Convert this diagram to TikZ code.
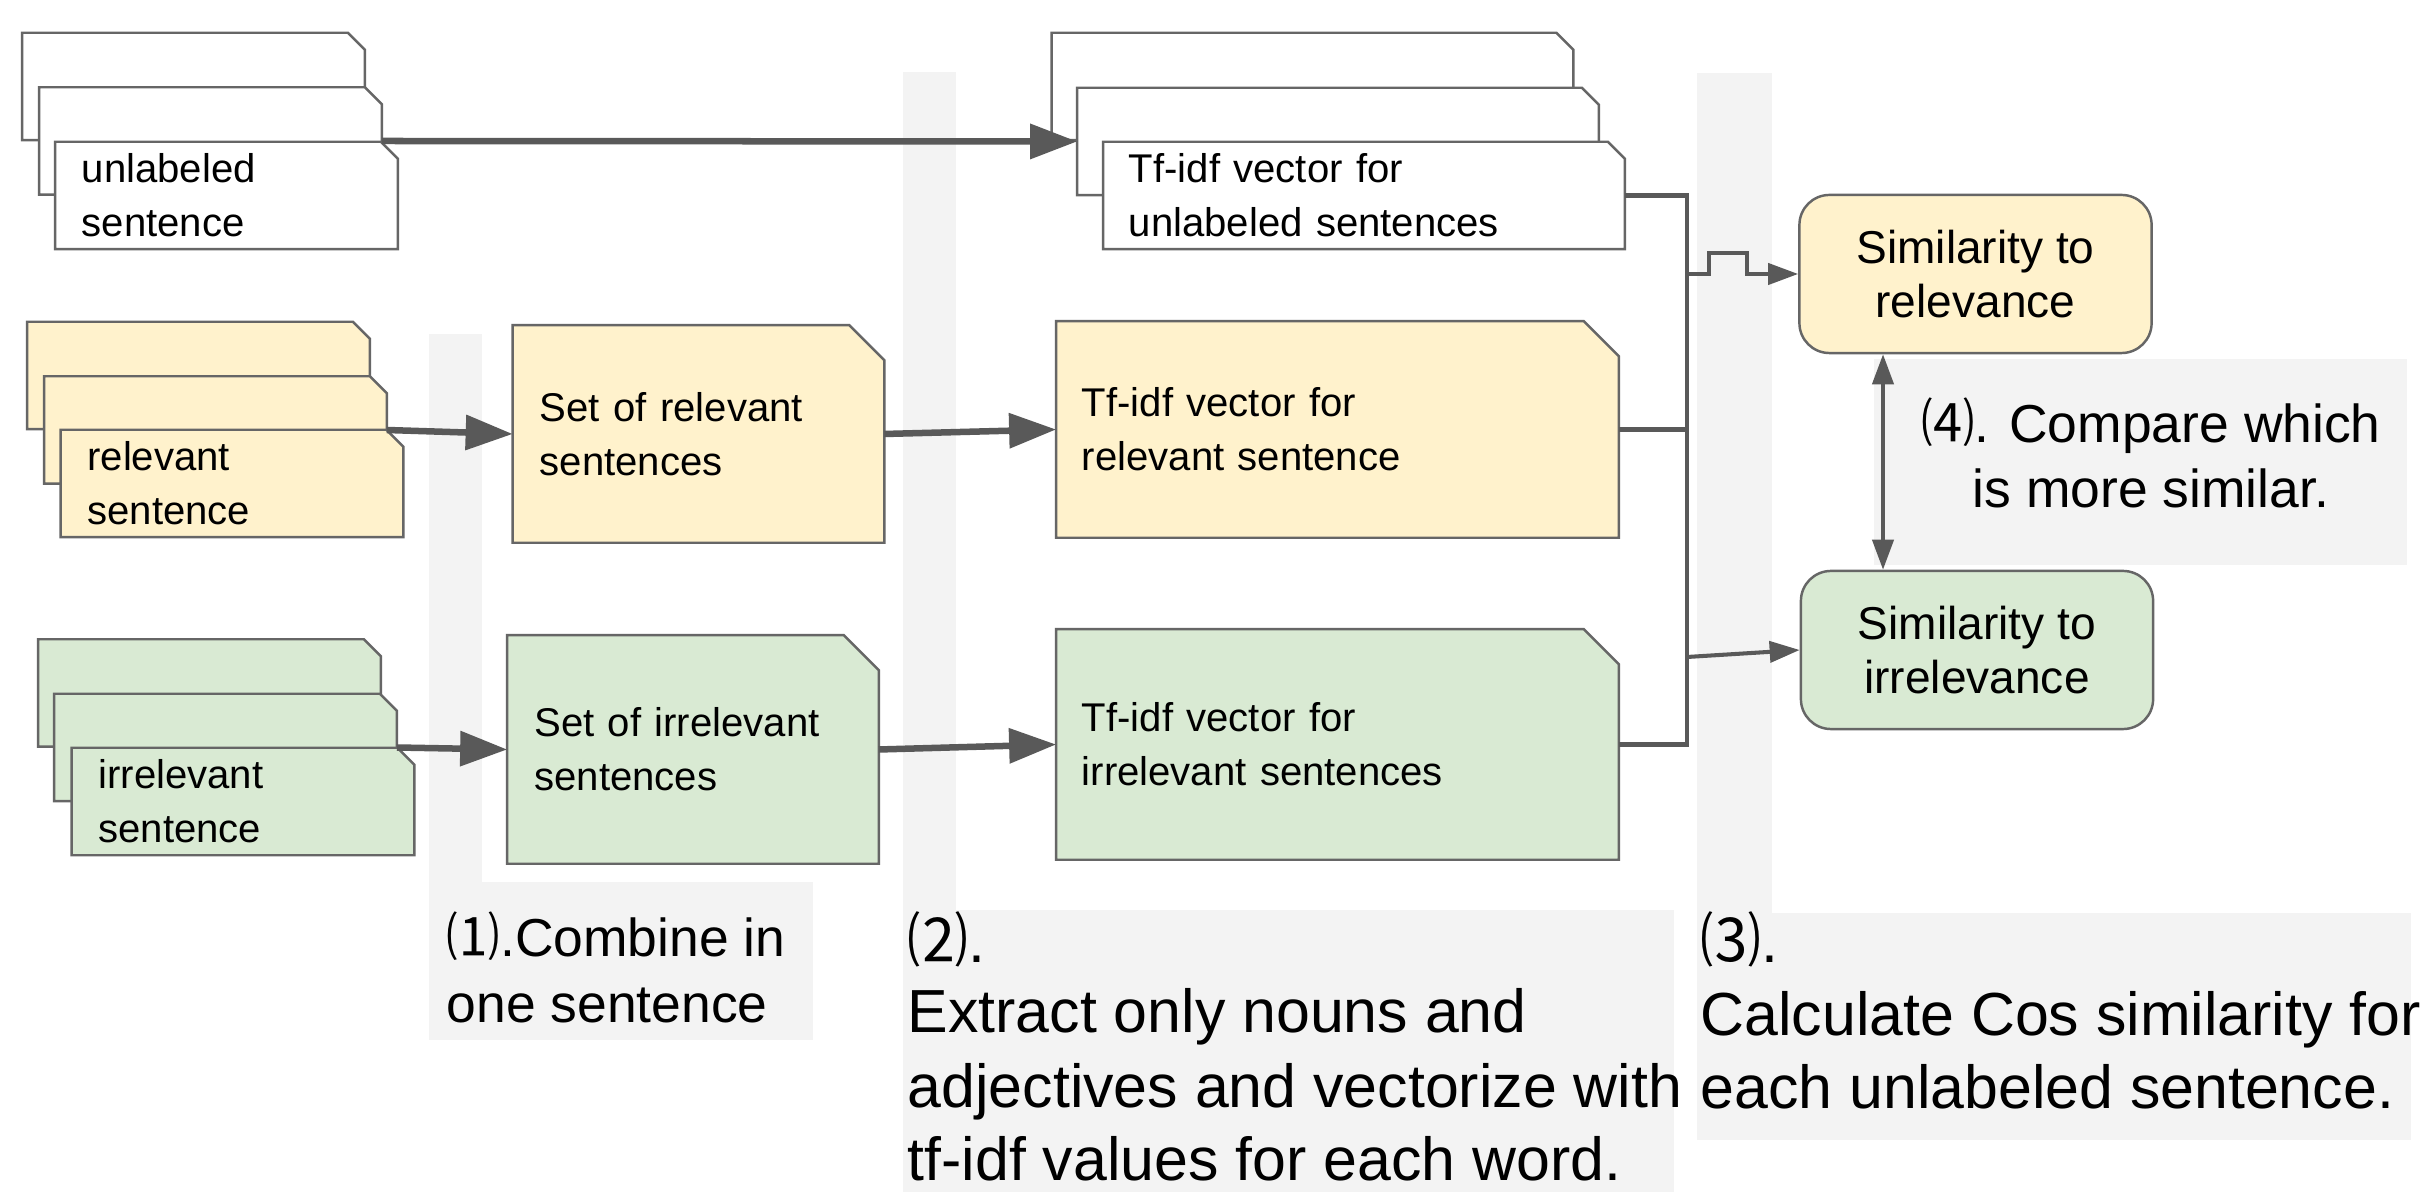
\documentclass[tikz,border=0pt]{standalone}
\usepackage{fontspec}
\setmainfont{Liberation Sans}
\newfontfamily\cjk{Noto Sans CJK JP}
\usetikzlibrary{arrows.meta,backgrounds}

\definecolor{bandgray}{HTML}{F3F3F3}
\definecolor{relfill}{HTML}{FFF2CC}
\definecolor{irrfill}{HTML}{D9EAD3}
\definecolor{edgegray}{HTML}{666666}
\definecolor{arrowgray}{HTML}{595959}

% outline of a document shape with its top right corner cut off
\newcommand\cutbox[3]{%
  \filldraw[boxline,fill=#3] (#1.north west) -- ([xshift=-#2]#1.north east)
    -- ([yshift=-#2]#1.north east) -- (#1.south east) -- (#1.south west) -- cycle;}

\tikzset{
  boxline/.style={draw=edgegray,line width=0.7pt},
  boxtext/.style={font={\fontsize{11.4pt}{15.4pt}\selectfont},align=left,inner ysep=0pt},
  sheet/.style={boxtext,inner xsep=0.26cm,minimum width=3.41cm,minimum height=1.06cm,text width=2.89cm},
  tsheet/.style={boxtext,inner xsep=0.25cm,minimum width=5.2cm,minimum height=1.06cm,text width=4.7cm},
  setbox/.style={boxtext,inner xsep=0.265cm,minimum width=3.7cm,text width=3.17cm},
  tfbox/.style={boxtext,inner xsep=0.25cm,minimum width=5.61cm,text width=5.11cm},
  simbox/.style={draw=edgegray,line width=0.7pt,rounded corners=0.3cm,minimum width=3.52cm,
    minimum height=1.58cm,align=center,inner sep=0pt,font={\fontsize{13.1pt}{15.1pt}\selectfont}},
  bigarrow/.style={draw=arrowgray,line width=1.85pt,-{Triangle[length=0.47cm,width=0.34cm]}},
  link/.style={draw=arrowgray,line width=1.15pt},
  smalltip/.style={-{Triangle[length=0.3cm,width=0.21cm]}},
  bothtips/.style={{Triangle[length=0.3cm,width=0.21cm]}-{Triangle[length=0.3cm,width=0.21cm]}},
  steplbl/.style={anchor=base west,inner sep=0pt,font={\fontsize{17.3pt}{21pt}\selectfont}},
  steplblsm/.style={anchor=base west,inner sep=0pt,font={\fontsize{15.2pt}{19pt}\selectfont}},
}

\begin{document}
\begin{tikzpicture}[x=0.01cm,y=-0.01cm]
\useasboundingbox (0,0) rectangle (2427,1192);

% ---- unlabeled sentences (stack of three sheets)
\node[sheet] (uB) at (193.5,86.5) {};
\node[sheet] (uM) at (210.5,141) {};
\node[sheet] (uF) at (226.5,195.5) {unlabeled\\sentence};

% ---- relevant sentences
\node[sheet] (rB) at (198.5,375.5) {};
\node[sheet] (rM) at (215.5,430) {};
\node[sheet] (rF) at (232,483.5) {relevant\\sentence};

% ---- irrelevant sentences
\node[sheet] (iB) at (209.5,693) {};
\node[sheet] (iM) at (225.5,747.5) {};
\node[sheet] (iF) at (243,801.5) {irrelevant\\sentence};

% ---- combined sets
\node[setbox,minimum height=2.16cm] (setR) at (698.5,434) {Set of relevant\\sentences};
\node[setbox,minimum height=2.27cm] (setI) at (693,749.5) {Set of irrelevant\\sentences};

% ---- tf-idf vectors
\node[tsheet] (tuB) at (1312.5,86.5) {};
\node[tsheet] (tuM) at (1338,141.5) {};
\node[tsheet] (tuF) at (1364,195.5) {Tf-idf vector for\\unlabeled sentences};
\node[tfbox,minimum height=2.15cm] (tfR) at (1337.5,429.5) {Tf-idf vector for\\relevant sentence};
\node[tfbox,minimum height=2.29cm] (tfI) at (1337.5,744.5) {Tf-idf vector for\\irrelevant sentences};

% ---- similarities
\node[simbox,fill=relfill] (simR) at (1975.5,274) {Similarity to\\relevance};
\node[simbox,fill=irrfill] (simI) at (1977,650) {Similarity to\\irrelevance};

% ---- step descriptions
\node[steplblsm] (l1a) at (446,957) {{\cjk ⑴}.Combine in};
\node[steplblsm] (l1b) at (446,1022) {one sentence};
\node[steplbl] (l2a) at (907,962) {{\cjk ⑵}.};
\node[steplbl] (l2b) at (907,1033) {Extract only nouns and};
\node[steplbl] (l2c) at (907,1107) {adjectives and vectorize with};
\node[steplbl] (l2d) at (907,1180) {tf-idf values for each word.};
\node[steplbl] (l3a) at (1700,962) {{\cjk ⑶}.};
\node[steplbl] (l3b) at (1700,1035) {Calculate Cos similarity for};
\node[steplbl] (l3c) at (1700,1108) {each unlabeled sentence.};
\node[steplblsm,anchor=base] (l4a) at (2151,443) {{\cjk ⑷}. Compare which};
\node[steplblsm,anchor=base] (l4b) at (2151,508) {is more similar.};

% ---- backdrop: step bands and the shape outlines
\begin{scope}[on background layer]
  \fill[white] (0,0) rectangle (2427,1192);
  \fill[bandgray] (429,334) rectangle (482,882);
  \fill[bandgray] (429,882) rectangle (813,1040);
  \fill[bandgray] (903,72) rectangle (956,910);
  \fill[bandgray] (903,910) rectangle (1674,1192);
  \fill[bandgray] (1697,73) rectangle (1772,913);
  \fill[bandgray] (1697,913) rectangle (2411,1140);
  \fill[bandgray] (1874,359) rectangle (2407,565);
  \cutbox{uB}{0.17cm}{white}
  \cutbox{uM}{0.17cm}{white}
  \cutbox{uF}{0.17cm}{white}
  \cutbox{rB}{0.17cm}{relfill}
  \cutbox{rM}{0.17cm}{relfill}
  \cutbox{rF}{0.17cm}{relfill}
  \cutbox{iB}{0.17cm}{irrfill}
  \cutbox{iM}{0.17cm}{irrfill}
  \cutbox{iF}{0.17cm}{irrfill}
  \cutbox{setR}{0.35cm}{relfill}
  \cutbox{setI}{0.35cm}{irrfill}
  \cutbox{tuB}{0.17cm}{white}
  \cutbox{tuM}{0.17cm}{white}
  \cutbox{tuF}{0.17cm}{white}
  \cutbox{tfR}{0.35cm}{relfill}
  \cutbox{tfI}{0.35cm}{irrfill}
\end{scope}

% ---- connectors
\draw[bigarrow] (uM.east) -- (tuM.west);
\draw[bigarrow] (rM.east) -- (setR.west);
\draw[bigarrow] (iM.east) -- (setI.west);
\draw[bigarrow] (setR.east) -- (tfR.west);
\draw[bigarrow] (setI.east) -- (tfI.west);

\coordinate (bus) at (1687,0);
\coordinate (jI) at (1687,657);
\coordinate (cmp) at (1883,0);
\draw[link] (tuF.east) -| (tfI.east -| bus) -- (tfI.east);
\draw[link] (tfR.east) -- (tfR.east -| bus);
\draw[link,smalltip] (simR.west -| bus) -- ++(22,0) -- ++(0,-21) -- ++(38,0) -- ++(0,21) -- (simR.west);
\draw[link,smalltip] (jI) -- (simI.west);
\draw[link,bothtips] (simR.south -| cmp) -- (simI.north -| cmp);
\end{tikzpicture}
\end{document}
